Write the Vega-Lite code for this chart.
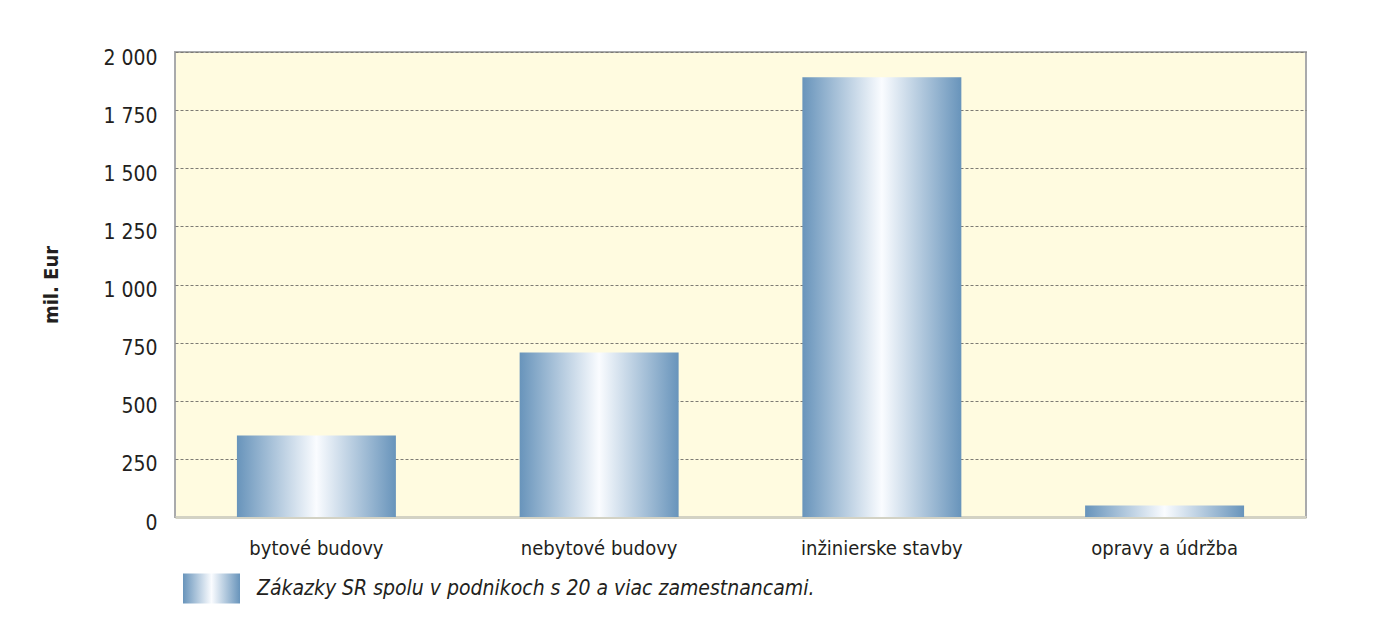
{
  "$schema": "https://vega.github.io/schema/vega-lite/v6.json",
  "autosize": "none",
  "width": 1131,
  "height": 465,
  "padding": {"left": 175, "top": 52, "right": 86, "bottom": 105},
  "background": "white",
  "data": {
    "values": [
      {"kategoria": "bytové budovy", "hodnota": 351, "seria": "Zákazky SR spolu v podnikoch s 20 a viac zamestnancami."},
      {"kategoria": "nebytové budovy", "hodnota": 708, "seria": "Zákazky SR spolu v podnikoch s 20 a viac zamestnancami."},
      {"kategoria": "inžinierske stavby", "hodnota": 1891, "seria": "Zákazky SR spolu v podnikoch s 20 a viac zamestnancami."},
      {"kategoria": "opravy a údržba", "hodnota": 50, "seria": "Zákazky SR spolu v podnikoch s 20 a viac zamestnancami."}
    ]
  },
  "config": {
    "font": "Liberation Sans Narrow, DejaVu Sans Condensed, sans-serif",
    "view": {"fill": "#fffbe0", "stroke": "#a9aaac", "strokeWidth": 2}
  },
  "mark": {
    "type": "bar",
    "color": {
      "gradient": "linear",
      "x1": 0, "x2": 1, "y1": 0, "y2": 0,
      "stops": [
        {"offset": 0, "color": "#6894bb"},
        {"offset": 0.5, "color": "#fafcff"},
        {"offset": 1, "color": "#6894bb"}
      ]
    }
  },
  "encoding": {
    "x": {
      "field": "kategoria",
      "type": "nominal",
      "sort": null,
      "scale": {"paddingInner": 0.4377, "paddingOuter": 0.219},
      "axis": {
        "title": null,
        "labelAngle": 0,
        "labelFontSize": 20,
        "labelColor": "#231f20",
        "labelPadding": 21,
        "ticks": false,
        "domain": true,
        "domainColor": "#d3d2c4",
        "domainWidth": 3
      }
    },
    "y": {
      "field": "hodnota",
      "type": "quantitative",
      "scale": {"domain": [0, 2000], "nice": false},
      "axis": {
        "title": "mil. Eur",
        "titleFontSize": 20,
        "titleFontWeight": "bold",
        "titleColor": "#231f20",
        "titlePadding": 41,
        "values": [0, 250, 500, 750, 1000, 1250, 1500, 1750, 2000],
        "labelExpr": "replace(format(datum.value, ','), ',', ' ')",
        "labelFontSize": 21,
        "labelColor": "#231f20",
        "labelPadding": 18,
        "labelOffset": 6,
        "ticks": false,
        "domain": false,
        "grid": true,
        "gridColor": "#7d7b74",
        "gridDash": [3, 2],
        "gridWidth": 1
      }
    },
    "opacity": {
      "field": "seria",
      "type": "nominal",
      "scale": {"range": [1]},
      "legend": {
        "title": null,
        "orient": "none",
        "legendX": 8,
        "legendY": 508,
        "padding": 0,
        "symbolType": "M-1,-0.526H1V0.526H-1Z",
        "symbolSize": 3249,
        "symbolStrokeWidth": 0,
        "labelFontSize": 21,
        "labelFontStyle": "italic",
        "labelColor": "#231f20",
        "labelOffset": 17,
        "labelLimit": 800,
        "encode": {
          "symbols": {
            "update": {
              "fill": {"value": {
                "gradient": "linear",
                "x1": 0, "x2": 1, "y1": 0, "y2": 0,
                "stops": [
                  {"offset": 0, "color": "#6894bb"},
                  {"offset": 0.5, "color": "#fafcff"},
                  {"offset": 1, "color": "#6894bb"}
                ]
              }},
              "opacity": {"value": 1},
              "strokeWidth": {"value": 0}
            }
          }
        }
      }
    }
  }
}
